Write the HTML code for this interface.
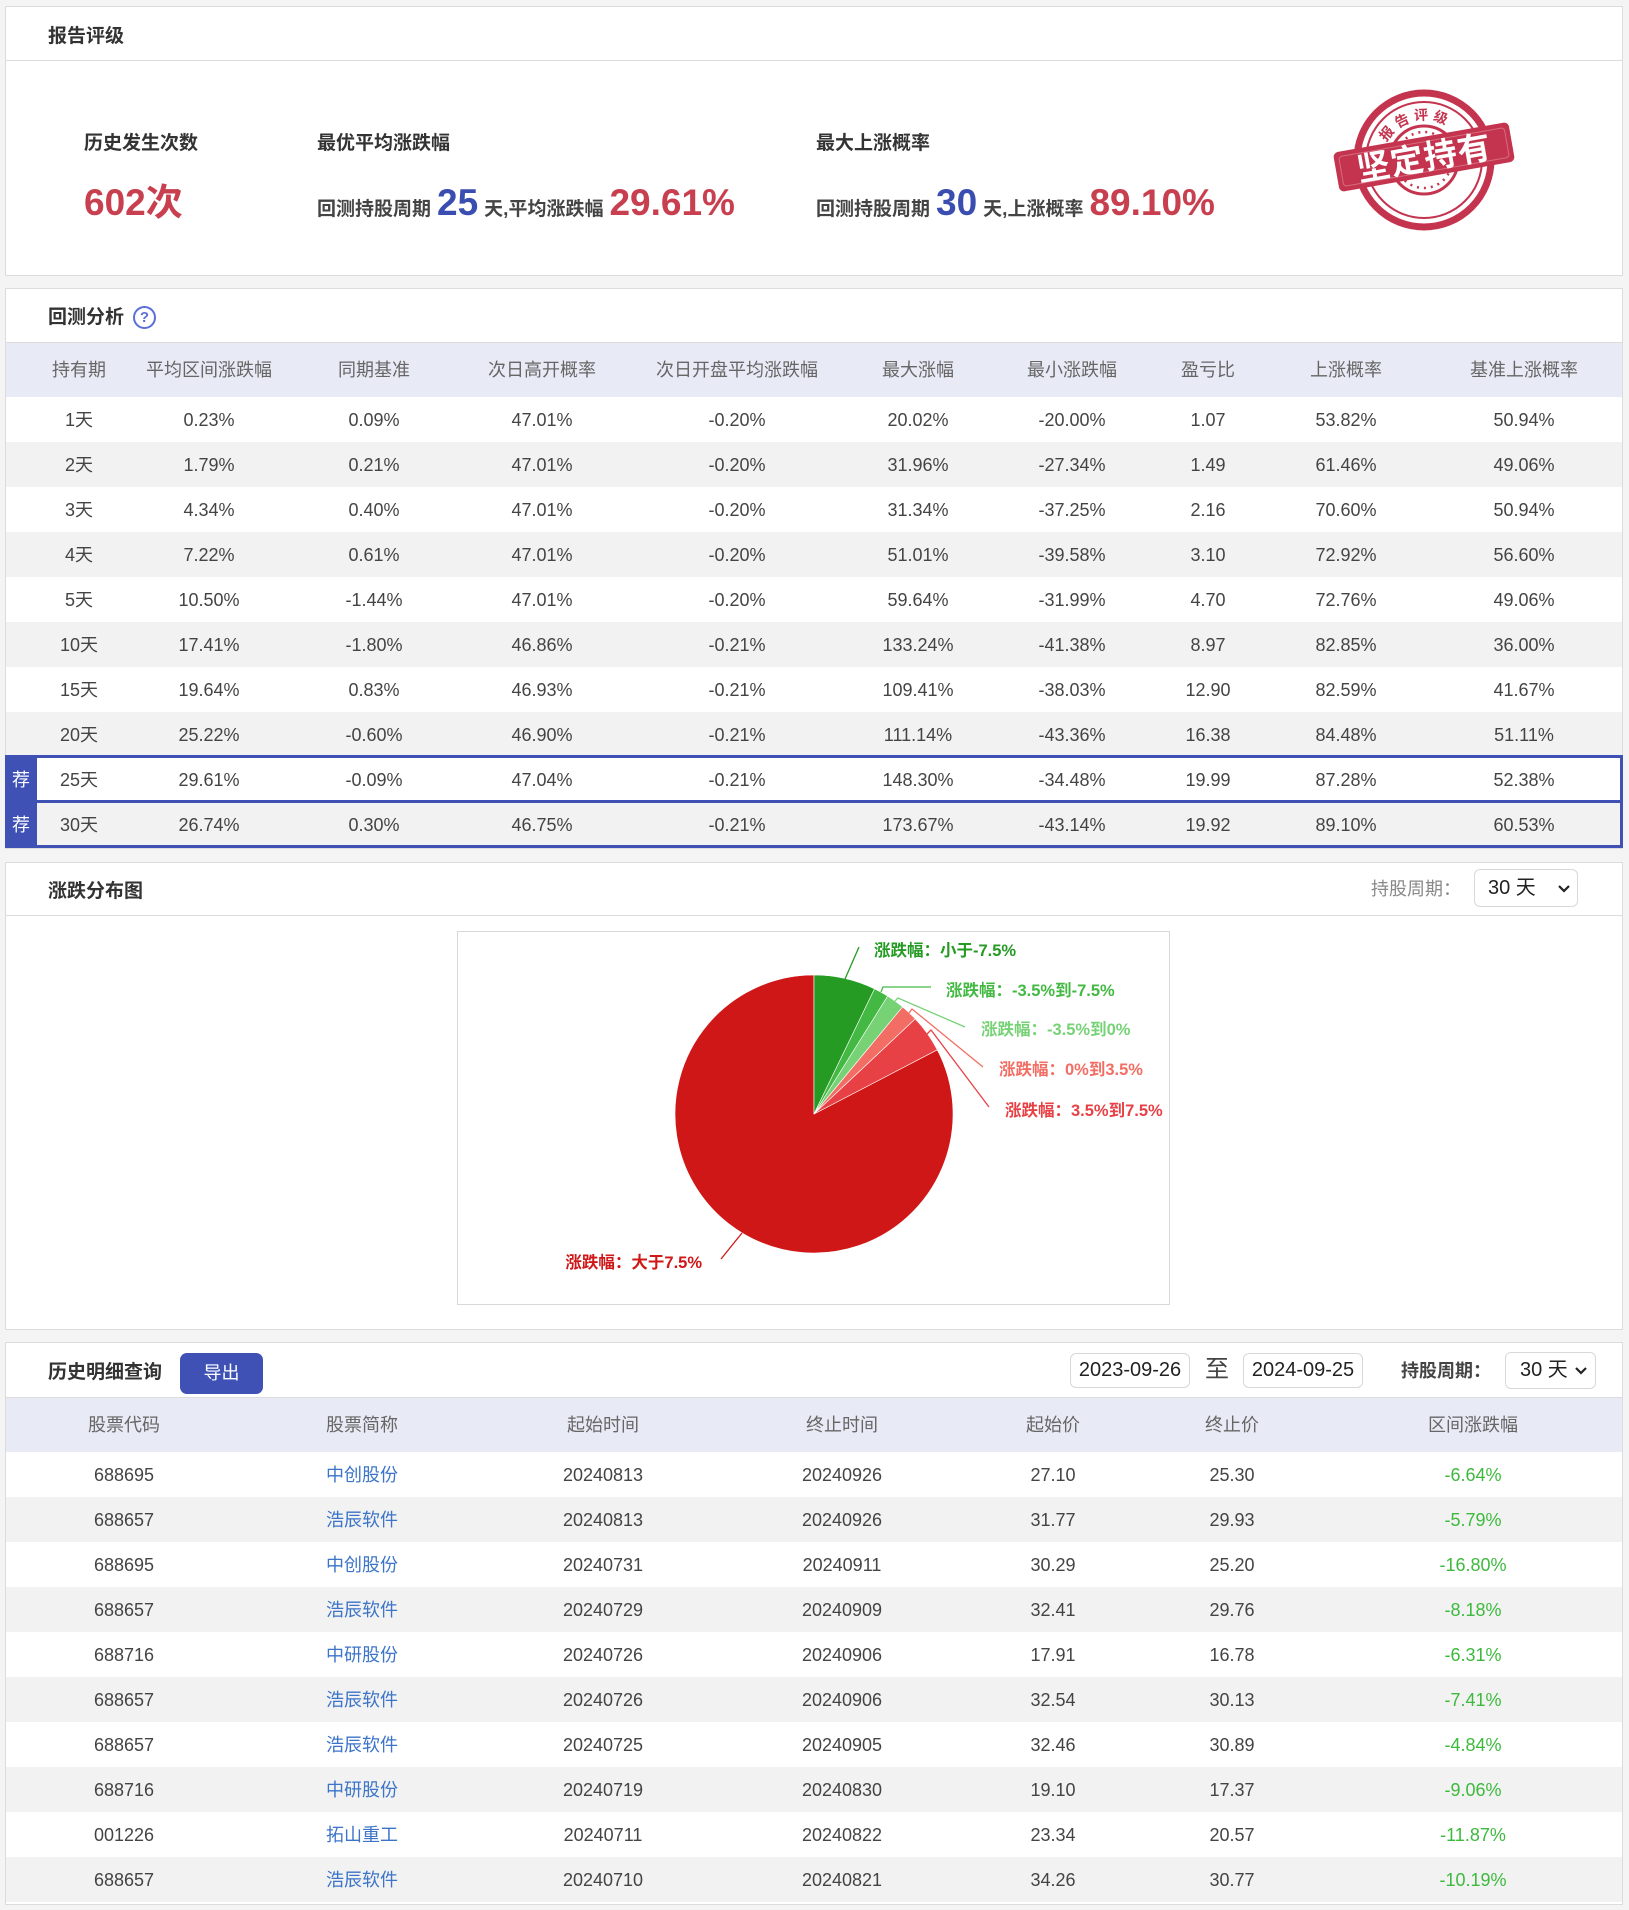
<!DOCTYPE html>
<html><head><meta charset="utf-8">
<style>
*{box-sizing:border-box}
body{margin:0;background:#f4f4f4;width:1629px;height:1910px;position:relative;overflow:hidden;font-family:"Liberation Sans","Noto Sans CJK SC",sans-serif;}
.panel{position:absolute;left:5px;width:1618px;background:#fff;border:1px solid #dcdcdc}
.t{position:absolute;white-space:nowrap}
.title{position:absolute;left:48px;font-size:19px;font-weight:bold;color:#333;line-height:30px;white-space:nowrap}
.hline{position:absolute;left:6px;width:1616px;height:1px;background:#dcdcdc}
.row{position:absolute;left:6px;width:1616px;height:45px}
.hdr{position:absolute;left:6px;width:1616px;background:#e8eaf5}
.g{background:#f2f2f2}
.c{position:absolute;top:1px;width:180px;text-align:center;line-height:45px;font-size:18px;color:#444;white-space:nowrap}
.hdr .c{color:#666;line-height:55px;top:0}
.k0{left:-17px}.k1{left:113px}.k2{left:278px}.k3{left:446px}.k4{left:641px}.k5{left:822px}.k6{left:976px}.k7{left:1112px}.k8{left:1250px}.k9{left:1428px}
.m0{left:28px}.m1{left:266px}.m2{left:507px}.m3{left:746px}.m4{left:957px}.m5{left:1136px}.m6{left:1377px}
.lk{color:#3b74c9}
.gr{color:#3dba3d}
.lab{font-size:19px;font-weight:bold;color:#333}
.line{position:absolute;display:flex;align-items:baseline;white-space:nowrap;color:#444;font-weight:bold}
.line .s{font-size:19px}
.line .b{font-size:37px;color:#3a4db0;margin:0 6px}
.line .r{font-size:37px;color:#c8404f;margin-left:6px}
.box{position:absolute;border:1px solid #d8d8d8;border-radius:6px;background:#fff;font-size:20px;color:#222;white-space:nowrap}
</style></head>
<body>

<!-- Panel 1 -->
<div class="panel" style="top:6px;height:270px"></div>
<div class="title" style="top:22px">报告评级</div>
<div class="hline" style="top:60px"></div>
<div class="t lab" style="left:84px;top:128px">历史发生次数</div>
<div class="t" style="left:84px;top:180px;font-size:37px;font-weight:bold;color:#c8404f;line-height:46px">602次</div>
<div class="t lab" style="left:317px;top:128px">最优平均涨跌幅</div>
<div class="line" style="left:317px;top:180px;line-height:46px"><span class="s">回测持股周期</span><span class="b">25</span><span class="s">天,平均涨跌幅</span><span class="r">29.61%</span></div>
<div class="t lab" style="left:816px;top:128px">最大上涨概率</div>
<div class="line" style="left:816px;top:180px;line-height:46px"><span class="s">回测持股周期</span><span class="b">30</span><span class="s">天,上涨概率</span><span class="r">89.10%</span></div>

<!-- Panel 2 -->
<div class="panel" style="top:288px;height:561px"></div>
<div class="title" style="top:303px">回测分析</div>
<div class="t" style="left:133px;top:306px;width:23px;height:23px;border:2px solid #5b6fd6;border-radius:50%;color:#5b6fd6;font-size:15px;font-weight:bold;text-align:center;line-height:19px">?</div>
<div class="hdr" style="top:342px;height:55px;border-top:1px solid #dcdcdc">
<div class="c k0">持有期</div><div class="c k1">平均区间涨跌幅</div><div class="c k2">同期基准</div><div class="c k3">次日高开概率</div><div class="c k4">次日开盘平均涨跌幅</div><div class="c k5">最大涨幅</div><div class="c k6">最小涨跌幅</div><div class="c k7">盈亏比</div><div class="c k8">上涨概率</div><div class="c k9">基准上涨概率</div>
</div>
<div class="row" style="top:397px"><div class="c k0">1天</div><div class="c k1">0.23%</div><div class="c k2">0.09%</div><div class="c k3">47.01%</div><div class="c k4">-0.20%</div><div class="c k5">20.02%</div><div class="c k6">-20.00%</div><div class="c k7">1.07</div><div class="c k8">53.82%</div><div class="c k9">50.94%</div></div>
<div class="row g" style="top:442px"><div class="c k0">2天</div><div class="c k1">1.79%</div><div class="c k2">0.21%</div><div class="c k3">47.01%</div><div class="c k4">-0.20%</div><div class="c k5">31.96%</div><div class="c k6">-27.34%</div><div class="c k7">1.49</div><div class="c k8">61.46%</div><div class="c k9">49.06%</div></div>
<div class="row" style="top:487px"><div class="c k0">3天</div><div class="c k1">4.34%</div><div class="c k2">0.40%</div><div class="c k3">47.01%</div><div class="c k4">-0.20%</div><div class="c k5">31.34%</div><div class="c k6">-37.25%</div><div class="c k7">2.16</div><div class="c k8">70.60%</div><div class="c k9">50.94%</div></div>
<div class="row g" style="top:532px"><div class="c k0">4天</div><div class="c k1">7.22%</div><div class="c k2">0.61%</div><div class="c k3">47.01%</div><div class="c k4">-0.20%</div><div class="c k5">51.01%</div><div class="c k6">-39.58%</div><div class="c k7">3.10</div><div class="c k8">72.92%</div><div class="c k9">56.60%</div></div>
<div class="row" style="top:577px"><div class="c k0">5天</div><div class="c k1">10.50%</div><div class="c k2">-1.44%</div><div class="c k3">47.01%</div><div class="c k4">-0.20%</div><div class="c k5">59.64%</div><div class="c k6">-31.99%</div><div class="c k7">4.70</div><div class="c k8">72.76%</div><div class="c k9">49.06%</div></div>
<div class="row g" style="top:622px"><div class="c k0">10天</div><div class="c k1">17.41%</div><div class="c k2">-1.80%</div><div class="c k3">46.86%</div><div class="c k4">-0.21%</div><div class="c k5">133.24%</div><div class="c k6">-41.38%</div><div class="c k7">8.97</div><div class="c k8">82.85%</div><div class="c k9">36.00%</div></div>
<div class="row" style="top:667px"><div class="c k0">15天</div><div class="c k1">19.64%</div><div class="c k2">0.83%</div><div class="c k3">46.93%</div><div class="c k4">-0.21%</div><div class="c k5">109.41%</div><div class="c k6">-38.03%</div><div class="c k7">12.90</div><div class="c k8">82.59%</div><div class="c k9">41.67%</div></div>
<div class="row g" style="top:712px"><div class="c k0">20天</div><div class="c k1">25.22%</div><div class="c k2">-0.60%</div><div class="c k3">46.90%</div><div class="c k4">-0.21%</div><div class="c k5">111.14%</div><div class="c k6">-43.36%</div><div class="c k7">16.38</div><div class="c k8">84.48%</div><div class="c k9">51.11%</div></div>
<div class="row" style="top:757px"><div class="c k0">25天</div><div class="c k1">29.61%</div><div class="c k2">-0.09%</div><div class="c k3">47.04%</div><div class="c k4">-0.21%</div><div class="c k5">148.30%</div><div class="c k6">-34.48%</div><div class="c k7">19.99</div><div class="c k8">87.28%</div><div class="c k9">52.38%</div></div>
<div class="row g" style="top:802px"><div class="c k0">30天</div><div class="c k1">26.74%</div><div class="c k2">0.30%</div><div class="c k3">46.75%</div><div class="c k4">-0.21%</div><div class="c k5">173.67%</div><div class="c k6">-43.14%</div><div class="c k7">19.92</div><div class="c k8">89.10%</div><div class="c k9">60.53%</div></div>
<!-- highlight -->
<div class="t" style="left:5px;top:755px;width:1618px;height:93px;border:3px solid #3f51b5"></div>
<div class="t" style="left:5px;top:800px;width:1618px;height:3px;background:#3f51b5"></div>
<div class="t" style="left:5px;top:755px;width:32px;height:93px;background:#3f51b5"></div>
<div class="t" style="left:5px;top:758px;width:32px;line-height:45px;text-align:center;color:#fff;font-size:18px">荐</div>
<div class="t" style="left:5px;top:803px;width:32px;line-height:45px;text-align:center;color:#fff;font-size:18px">荐</div>

<!-- Panel 3 -->
<div class="panel" style="top:862px;height:468px"></div>
<div class="title" style="top:877px">涨跌分布图</div>
<div class="hline" style="top:915px"></div>
<div class="t" style="left:1371px;top:876px;font-size:18px;color:#888;line-height:26px">持股周期：</div>
<div class="box" style="left:1474px;top:869px;width:104px;height:38px;line-height:36px;padding-left:13px">30 天</div>
<div class="t" style="left:457px;top:931px;width:713px;height:374px;border:1px solid #d8d8d8"></div>

<!-- Panel 4 -->
<div class="panel" style="top:1342px;height:563px"></div>
<div class="title" style="top:1358px">历史明细查询</div>
<div class="t" style="left:180px;top:1353px;width:83px;height:41px;background:#3f51b5;border-radius:7px;color:#fff;font-size:18px;line-height:41px;text-align:center">导出</div>
<div class="box" style="left:1070px;top:1353px;width:120px;height:35px;line-height:33px;text-align:center">2023-09-26</div>
<div class="t" style="left:1205px;top:1353px;font-size:24px;color:#444;line-height:34px">至</div>
<div class="box" style="left:1243px;top:1353px;width:120px;height:35px;line-height:33px;text-align:center">2024-09-25</div>
<div class="t" style="left:1401px;top:1357px;font-size:18px;font-weight:bold;color:#444;line-height:28px">持股周期：</div>
<div class="box" style="left:1505px;top:1352px;width:91px;height:37px;line-height:35px;padding-left:14px">30 天</div>
<div class="hdr" style="top:1397px;height:55px;border-top:1px solid #dcdcdc">
<div class="c m0">股票代码</div><div class="c m1">股票简称</div><div class="c m2">起始时间</div><div class="c m3">终止时间</div><div class="c m4">起始价</div><div class="c m5">终止价</div><div class="c m6">区间涨跌幅</div>
</div>
<div class="row" style="top:1452px"><div class="c m0">688695</div><div class="c m1 lk">中创股份</div><div class="c m2">20240813</div><div class="c m3">20240926</div><div class="c m4">27.10</div><div class="c m5">25.30</div><div class="c m6 gr">-6.64%</div></div>
<div class="row g" style="top:1497px"><div class="c m0">688657</div><div class="c m1 lk">浩辰软件</div><div class="c m2">20240813</div><div class="c m3">20240926</div><div class="c m4">31.77</div><div class="c m5">29.93</div><div class="c m6 gr">-5.79%</div></div>
<div class="row" style="top:1542px"><div class="c m0">688695</div><div class="c m1 lk">中创股份</div><div class="c m2">20240731</div><div class="c m3">20240911</div><div class="c m4">30.29</div><div class="c m5">25.20</div><div class="c m6 gr">-16.80%</div></div>
<div class="row g" style="top:1587px"><div class="c m0">688657</div><div class="c m1 lk">浩辰软件</div><div class="c m2">20240729</div><div class="c m3">20240909</div><div class="c m4">32.41</div><div class="c m5">29.76</div><div class="c m6 gr">-8.18%</div></div>
<div class="row" style="top:1632px"><div class="c m0">688716</div><div class="c m1 lk">中研股份</div><div class="c m2">20240726</div><div class="c m3">20240906</div><div class="c m4">17.91</div><div class="c m5">16.78</div><div class="c m6 gr">-6.31%</div></div>
<div class="row g" style="top:1677px"><div class="c m0">688657</div><div class="c m1 lk">浩辰软件</div><div class="c m2">20240726</div><div class="c m3">20240906</div><div class="c m4">32.54</div><div class="c m5">30.13</div><div class="c m6 gr">-7.41%</div></div>
<div class="row" style="top:1722px"><div class="c m0">688657</div><div class="c m1 lk">浩辰软件</div><div class="c m2">20240725</div><div class="c m3">20240905</div><div class="c m4">32.46</div><div class="c m5">30.89</div><div class="c m6 gr">-4.84%</div></div>
<div class="row g" style="top:1767px"><div class="c m0">688716</div><div class="c m1 lk">中研股份</div><div class="c m2">20240719</div><div class="c m3">20240830</div><div class="c m4">19.10</div><div class="c m5">17.37</div><div class="c m6 gr">-9.06%</div></div>
<div class="row" style="top:1812px"><div class="c m0">001226</div><div class="c m1 lk">拓山重工</div><div class="c m2">20240711</div><div class="c m3">20240822</div><div class="c m4">23.34</div><div class="c m5">20.57</div><div class="c m6 gr">-11.87%</div></div>
<div class="row g" style="top:1857px"><div class="c m0">688657</div><div class="c m1 lk">浩辰软件</div><div class="c m2">20240710</div><div class="c m3">20240821</div><div class="c m4">34.26</div><div class="c m5">30.77</div><div class="c m6 gr">-10.19%</div></div>

<!-- SVG overlay: pie, stamp, chevrons -->
<svg width="1629" height="1910" style="position:absolute;left:0;top:0" xmlns="http://www.w3.org/2000/svg">
<polyline points="1559,886 1564,891 1569,886" fill="none" stroke="#222" stroke-width="2.2"/>
<polyline points="1576,1368 1581,1373 1586,1368" fill="none" stroke="#222" stroke-width="2.2"/>

<!-- pie -->
<g stroke="#fff" stroke-width="0.6">
<path d="M814,1114 L937.3,1049.8 A139,139 0 1 1 814,975 Z" fill="#cf1717"/>
<path d="M814,1114 L814,975 A139,139 0 0 1 874.5,988.9 Z" fill="#259b24"/>
<path d="M814,1114 L874.5,988.9 A139,139 0 0 1 887.7,996.1 Z" fill="#43b943"/>
<path d="M814,1114 L887.7,996.1 A139,139 0 0 1 902.6,1006.9 Z" fill="#76d275"/>
<path d="M814,1114 L902.6,1006.9 A139,139 0 0 1 915.3,1018.9 Z" fill="#f26e64"/>
<path d="M814,1114 L915.3,1018.9 A139,139 0 0 1 937.3,1049.8 Z" fill="#e84145"/>
</g>
<g fill="none" stroke-width="1.3">
<polyline points="845,979 859,947" stroke="#259b24"/>
<polyline points="881,992 883,987 931,987" stroke="#43b943"/>
<polyline points="895,1001 898,998 965,1027" stroke="#76d275"/>
<polyline points="909,1013 912,1009 983,1067" stroke="#f26e64"/>
<polyline points="927,1034 931,1030 989,1107" stroke="#e84145"/>
<polyline points="742,1233 721,1259" stroke="#cf1717"/>
</g>
<g font-family="Liberation Sans, Noto Sans CJK SC, sans-serif" font-size="16.5" font-weight="bold" dominant-baseline="central">
<text x="874" y="951" fill="#259b24">涨跌幅：小于-7.5%</text>
<text x="946" y="991" fill="#43b943">涨跌幅：-3.5%到-7.5%</text>
<text x="981" y="1030" fill="#76d275">涨跌幅：-3.5%到0%</text>
<text x="999" y="1070" fill="#f26e64">涨跌幅：0%到3.5%</text>
<text x="1005" y="1111" fill="#e84145">涨跌幅：3.5%到7.5%</text>
<text x="702" y="1263" fill="#cf1717" text-anchor="end">涨跌幅：大于7.5%</text>
</g>

<!-- stamp -->
<g transform="translate(1424,160)">
<defs><path id="arcTop" d="M -44,4 A 44 44 0 0 1 44,4"/></defs>
<circle r="67" fill="none" stroke="#c4344e" stroke-width="7"/>
<circle r="58" fill="none" stroke="#c4344e" stroke-width="2"/>
<circle r="34" fill="none" stroke="#c4344e" stroke-width="3"/>
<circle r="28" fill="none" stroke="#c4344e" stroke-width="2.5" stroke-dasharray="2 5"/>
<g transform="rotate(-14)">
<text font-family="Liberation Sans, Noto Sans CJK SC, sans-serif" font-size="14" font-weight="bold" fill="#c4344e" letter-spacing="4"><textPath href="#arcTop" startOffset="50%" text-anchor="middle">报告评级</textPath></text>
</g>
<g transform="translate(0,-3) rotate(-10)">
<rect x="-89" y="-20" width="178" height="40" rx="5" fill="#c4344e"/>
<rect x="-84" y="-15" width="168" height="30" rx="3" fill="none" stroke="#e9a3ae" stroke-width="1" opacity="0.5"/>
<text x="0" y="1" text-anchor="middle" dominant-baseline="central" font-family="Liberation Sans, Noto Sans CJK SC, sans-serif" font-size="33" font-weight="bold" fill="#fff" letter-spacing="1">坚定持有</text>
</g>
</g>
</svg>
</body></html>
